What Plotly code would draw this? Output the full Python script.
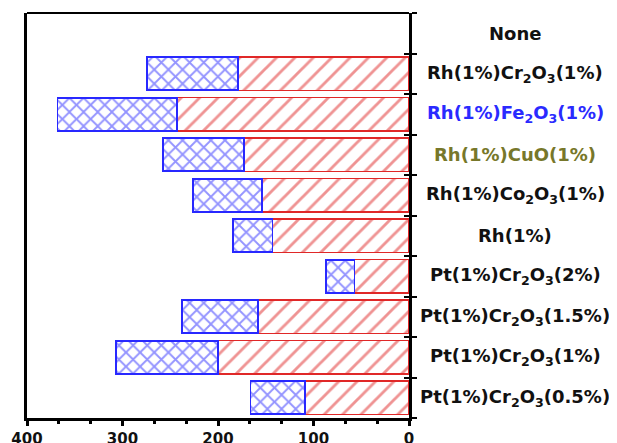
import plotly.graph_objects as go

categories = ["Pt(1%)Cr2O3(0.5%)", "Pt(1%)Cr2O3(1%)", "Pt(1%)Cr2O3(1.5%)", "Pt(1%)Cr2O3(2%)",
              "Rh(1%)", "Rh(1%)Co2O3(1%)", "Rh(1%)CuO(1%)", "Rh(1%)Fe2O3(1%)",
              "Rh(1%)Cr2O3(1%)", "None"]
labels = ["Pt(1%)Cr<sub>2</sub>O<sub>3</sub>(0.5%)", "Pt(1%)Cr<sub>2</sub>O<sub>3</sub>(1%)",
          "Pt(1%)Cr<sub>2</sub>O<sub>3</sub>(1.5%)", "Pt(1%)Cr<sub>2</sub>O<sub>3</sub>(2%)",
          "Rh(1%)", "Rh(1%)Co<sub>2</sub>O<sub>3</sub>(1%)", "Rh(1%)CuO(1%)",
          "Rh(1%)Fe<sub>2</sub>O<sub>3</sub>(1%)", "Rh(1%)Cr<sub>2</sub>O<sub>3</sub>(1%)", "None"]
label_colors = ["#111111", "#111111", "#111111", "#111111", "#111111", "#111111",
                "#77772a", "#2a2aff", "#111111", "#111111"]
red_values = [109, 200, 158, 57, 143, 154, 173, 243, 179, 0]
total_values = [166, 307, 238, 87, 184, 226, 258, 368, 274, 0]
blue_values = [t - r for t, r in zip(total_values, red_values)]
x_ticks = [400, 300, 200, 100, 0]

red_plot = [v if v > 0 else None for v in red_values]
blue_plot = [v if v > 0 else None for v in blue_values]

RED = "#e02828"
BLUE = "#2828ff"
FONT = "DejaVu Sans, Liberation Sans, Arial"

fig = go.Figure()
fig.add_trace(go.Bar(
    y=categories, x=red_plot, orientation="h", width=0.82,
    marker=dict(color="white", line=dict(color=RED, width=1.5),
                pattern=dict(shape="/", fgcolor=RED, bgcolor="white", size=13, solidity=0.22)),
    showlegend=False))
fig.add_trace(go.Bar(
    y=categories, x=blue_plot, orientation="h", width=0.82,
    marker=dict(color="white", line=dict(color=BLUE, width=1.8),
                pattern=dict(shape="x", fgcolor=BLUE, bgcolor="white", size=10, solidity=0.34)),
    showlegend=False))
# invisible trace for overlay axis (crossing ticks)
fig.add_trace(go.Bar(y=categories, x=[None]*len(categories), orientation="h",
                     yaxis="y2", showlegend=False, hoverinfo="skip"))

fig.update_layout(
    width=609, height=435, barmode="stack",
    margin=dict(l=19, r=208, t=5, b=25, autoexpand=False),
    paper_bgcolor="white", plot_bgcolor="white",
    font=dict(family=FONT, size=15, color="#111111"),
    xaxis=dict(range=[400, 0], tickvals=x_ticks, ticks="outside", ticklen=5, tickwidth=2.5,
               tickcolor="black", showline=True, linewidth=3, linecolor="black",
               showgrid=False, zeroline=False, automargin=False,
               tickfont=dict(family=FONT, size=15, color="#111111", weight="bold"),
               minor=dict(dtick=100/3, tick0=0, ticks="outside", ticklen=3, tickwidth=2.5, tickcolor="black")),
    yaxis=dict(type="category", categoryorder="array", categoryarray=categories,
               side="right", tickson="boundaries", ticks="outside", ticklen=5, tickwidth=2,
               tickcolor="black", showticklabels=False, showline=True, linewidth=3,
               linecolor="black", mirror=True, showgrid=False, range=[-0.5, 9.5], automargin=False),
    yaxis2=dict(type="category", categoryorder="array", categoryarray=categories,
                overlaying="y", side="right", tickson="boundaries", ticks="inside", ticklen=5,
                tickwidth=2, tickcolor="black", showticklabels=False, showline=False,
                showgrid=False, range=[-0.5, 9.5], automargin=False),
)
fig.add_shape(type="line", xref="paper", yref="paper", x0=0, x1=1, y0=1, y1=1,
              line=dict(color="black", width=2))
for cat, lab, col in zip(categories, labels, label_colors):
    fig.add_annotation(x=1.2775, xref="paper", y=cat, yref="y", text="<b>" + lab + "</b>",
                       showarrow=False, xanchor="center", yanchor="middle",
                       font=dict(family=FONT, size=18, color=col))

fig.write_html("out.html")
